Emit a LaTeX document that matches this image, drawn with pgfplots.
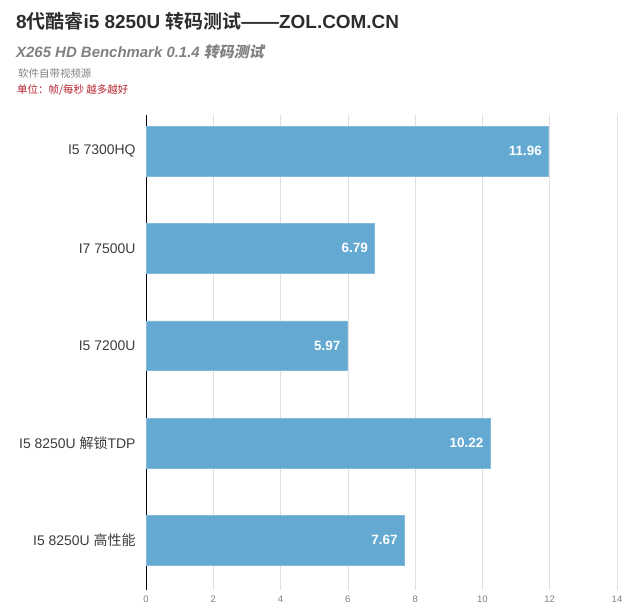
\documentclass[border=0pt]{standalone}
\usepackage{fontspec}
\setmainfont{Liberation Sans}
\newfontfamily\cjk{Noto Sans CJK SC}[BoldFont={Noto Sans CJK SC Bold}]
\newfontfamily\cjksl{Noto Sans CJK SC Bold}[FakeSlant=0.2]
\usepackage{pgfplots}
\pgfplotsset{compat=1.18}
\definecolor{barblue}{RGB}{100,169,210}
\definecolor{titlegray}{RGB}{45,45,45}
\definecolor{subgray}{RGB}{128,128,128}
\definecolor{unitred}{RGB}{180,35,45}
\definecolor{labgray}{RGB}{60,60,60}
\begin{document}
\begin{tikzpicture}
\useasboundingbox (0bp,0bp) rectangle (640bp,615bp);
% titles
\node[anchor=base west, inner sep=0, text=titlegray, font=\fontsize{19}{19}\selectfont\bfseries]
  at (16bp,586bp) {8{\cjk 代酷睿}i5 8250U {\cjk 转码测试}——ZOL.COM.CN};
\node[anchor=base west, inner sep=0, text=subgray, font=\fontsize{15}{16}\selectfont\bfseries\itshape]
  at (16bp,557bp) {X265 HD Benchmark 0.1.4 {\cjksl 转码测试}};
\node[anchor=base west, inner sep=0, text=subgray, font=\fontsize{10.5}{11}\selectfont\cjk]
  at (18bp,537bp) {软件自带视频源};
\node[anchor=base west, inner sep=0, text=unitred, font=\fontsize{10.5}{11}\selectfont\cjk]
  at (17bp,521bp) {单位：帧/每秒 越多越好};
\begin{axis}[
    at={(146bp,25bp)}, anchor=south west,
    width=471bp, height=475bp, scale only axis,
    xbar, bar width=0.51,
    xmin=0, xmax=14,
    ymin=-0.37, ymax=4.51,
    y dir=reverse,
    xtick={0,2,...,14},
    ytick={0,1,2,3,4},
    yticklabels={I5 7300HQ, I7 7500U, I5 7200U, I5 8250U {\cjk 解锁}TDP, I5 8250U {\cjk 高性能}},
    axis lines*=left,
    x axis line style={draw=none},
    y axis line style={black, line width=0.8pt},
    major tick length=0,
    xmajorgrids, grid style={gray!25, line width=0.6pt},
    /pgf/number format/assume math mode=true,
    x tick label style={font=\fontsize{9.5}{9.5}\selectfont, text=subgray, yshift=-2bp},
    y tick label style={font=\fontsize{14}{14}\selectfont, text=labgray, xshift=-7bp},
    nodes near coords,
    nodes near coords style={anchor=east, xshift=-3bp, text=white,
      font=\fontsize{13.5}{14}\selectfont\bfseries,
      /pgf/number format/.cd, fixed, fixed zerofill, precision=2, assume math mode=true},
]
\addplot[fill=barblue, draw=barblue!80!white] coordinates {(11.96,0) (6.79,1) (5.97,2) (10.22,3) (7.67,4)};
\end{axis}
\end{tikzpicture}
\end{document}
